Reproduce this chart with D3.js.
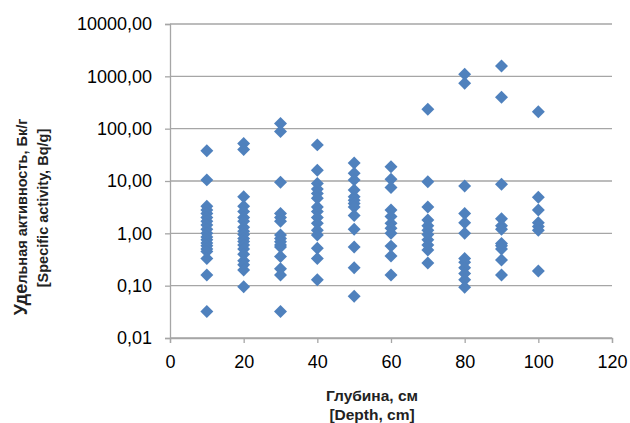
<!DOCTYPE html>
<html>
<head>
<meta charset="utf-8">
<script src="https://cdn.jsdelivr.net/npm/d3@7"></script>
<style>
  body { margin: 0; background: #fff; }
  svg { display: block; font-family: "Liberation Sans", Arial, sans-serif; }
</style>
</head>
<body>
<div id="chart"></div>
<script>
// глубина (см) и удельная активность (Бк/г) для каждой точки
const depths = [10, 20, 30, 40, 50, 60, 70, 80, 90, 100];
const activity = [
  [38, 10.5, 3.3, 2.8, 2.4, 2.0, 1.7, 1.45, 1.2, 1.0, 0.85, 0.75, 0.65, 0.58, 0.5, 0.45, 0.33, 0.16, 0.032],
  [52, 40, 5.0, 3.3, 2.6, 2.0, 1.7, 1.3, 1.1, 0.95, 0.8, 0.7, 0.6, 0.5, 0.4, 0.3, 0.25, 0.2, 0.095],
  [125, 88, 9.5, 2.4, 2.0, 1.7, 0.93, 0.8, 0.69, 0.6, 0.55, 0.36, 0.21, 0.16, 0.032],
  [49, 16, 9, 7, 5.8, 4.7, 3.2, 2.6, 2.0, 1.55, 1.15, 0.93, 0.52, 0.33, 0.13],
  [22, 14, 10.5, 6.7, 5.0, 4.3, 3.7, 3.2, 2.2, 1.2, 0.55, 0.22, 0.063],
  [18.8, 10.8, 7.5, 2.8, 2.1, 1.55, 1.25, 1.0, 0.57, 0.37, 0.16],
  [235, 9.7, 3.2, 1.8, 1.4, 1.15, 0.95, 0.75, 0.6, 0.48, 0.27],
  [1100, 740, 8, 2.4, 1.6, 1.0, 0.33, 0.28, 0.22, 0.17, 0.13, 0.093],
  [1580, 400, 8.7, 1.9, 1.4, 1.2, 0.64, 0.58, 0.5, 0.31, 0.16],
  [210, 4.9, 2.8, 1.6, 1.35, 1.15, 0.19]
];
const xTicks = [0, 20, 40, 60, 80, 100, 120];
const yTicks = [0.01, 0.1, 1, 10, 100, 1000, 10000];

const points = [];
depths.forEach((d, i) => activity[i].forEach(v => points.push({depth: d, value: v})));

const W = 630, H = 423;
const margin = {top: 24, right: 18, bottom: 85, left: 170};
const width = W - margin.left - margin.right,
    height = H - margin.top - margin.bottom;

const svg = d3.select("#chart").append("svg")
    .attr("width", W)
    .attr("height", H);

const g = svg.append("g")
    .attr("transform", `translate(${margin.left},${margin.top})`);

const x = d3.scaleLinear().domain([0, 120]).range([0, width]);
const y = d3.scaleLog().domain([0.01, 10000]).range([height, 0]);

const gridColor = "#a6a6a6";

// сетка
g.selectAll(".grid")
    .data(yTicks)
    .enter().append("line")
    .attr("x1", 0).attr("x2", width)
    .attr("y1", d => y(d)).attr("y2", d => y(d))
    .attr("stroke", gridColor)
    .attr("stroke-width", 1.3);

// оси
const fmt = d => d.toFixed(2).replace(".", ",");
const yAxis = g.append("g")
    .call(d3.axisLeft(y).tickValues(yTicks).tickFormat(fmt).tickSize(5).tickPadding(13));
const xAxis = g.append("g")
    .attr("transform", `translate(0,${height})`)
    .call(d3.axisBottom(x).tickValues(xTicks).tickSize(5).tickPadding(12));

[xAxis, yAxis].forEach(a => {
    a.select(".domain").attr("stroke", gridColor).attr("stroke-width", 1.3);
    a.selectAll(".tick line").attr("stroke", gridColor).attr("stroke-width", 1.3);
    a.selectAll("text")
        .attr("fill", "#000")
        .style("font-size", "18px")
        .style("font-family", "'Liberation Sans', Arial, sans-serif");
});

// точки
g.selectAll(".pt")
    .data(points)
    .enter().append("path")
    .attr("class", "pt")
    .attr("d", d3.symbol().type(d3.symbolSquare).size(84))
    .attr("transform", d => `translate(${x(d.depth)},${y(d.value)}) rotate(45)`)
    .attr("fill", "#4f81bd");

// подписи осей
const xTitle = svg.append("text")
    .attr("text-anchor", "middle")
    .attr("fill", "#222")
    .style("font-size", "15.5px")
    .style("font-weight", "bold");
xTitle.append("tspan").attr("x", 372).attr("y", 401).text("Глубина, см");
xTitle.append("tspan").attr("x", 372).attr("y", 420).text("[Depth, cm]");

const yTitle1 = svg.append("text")
    .attr("text-anchor", "middle")
    .attr("fill", "#222")
    .attr("transform", "translate(27,217) rotate(-90)")
    .style("font-size", "14.5px")
    .style("font-weight", "bold");
yTitle1.append("tspan").style("font-size", "18px").text("Уде");
yTitle1.append("tspan").text("льная активность, Бк/г");

svg.append("text")
    .attr("text-anchor", "middle")
    .attr("fill", "#222")
    .attr("transform", "translate(48,208) rotate(-90)")
    .style("font-size", "14.5px")
    .style("font-weight", "bold")
    .text("[Specific activity, Bq/g]");
</script>
</body>
</html>
